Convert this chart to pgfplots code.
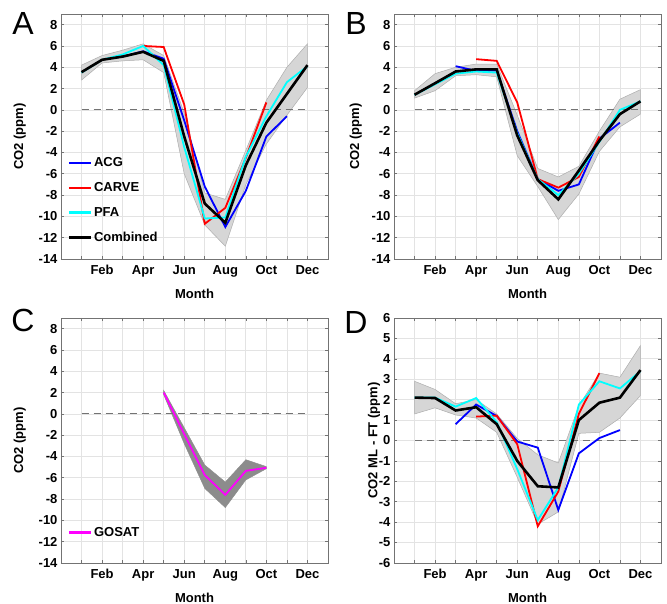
\documentclass[border=0pt]{standalone}
\usepackage{pgfplots}
\pgfplotsset{compat=1.18}
\usepackage{fontspec}
\setmainfont{Liberation Sans}
\definecolor{bandlight}{gray}{0.84}
\definecolor{bandedge}{gray}{0.68}
\definecolor{banddark}{gray}{0.55}
\definecolor{axisgray}{gray}{0.45}
\definecolor{cACG}{rgb}{0,0,1}
\definecolor{cCARVE}{rgb}{1,0,0}
\definecolor{cPFA}{rgb}{0,1,1}
\definecolor{cGOSAT}{rgb}{1,0,1}
\newcommand{\tfont}{\bfseries\fontsize{13}{15}\selectfont}
\pgfplotsset{
  panel/.style={
    scale only axis, width=267pt, height=245pt,
    xmin=0, xmax=13,
    xtick={1,...,12},
    xticklabels={{},Feb,{},Apr,{},Jun,{},Aug,{},Oct,{},Dec},
    grid=major,
    major grid style={gray!22, line width=0.7pt},
    axis line style={axisgray, line width=0.8pt},
    tick style={axisgray, line width=0.6pt},
    tick align=inside, tick pos=both, major tick length=3pt,
    ticklabel style={font=\tfont},
    xticklabel style={yshift=-3pt},
    /pgf/number format/assume math mode=true,
    xlabel=Month,
    xlabel style={font=\tfont, yshift=-5pt},
    ylabel near ticks,
    ylabel style={font=\tfont},
    legend cell align=left,
    legend style={draw=none, fill=none, font=\tfont, anchor=north west,
      inner sep=1pt, nodes={inner ysep=7.1pt}},
    legend image code/.code={\draw[mark repeat=2,mark phase=2,#1,line width=2.5pt] plot coordinates {(0pt,0pt) (11pt,0pt) (22pt,0pt)};},
  },
}
\tikzset{
  zero/.style={axisgray, line width=1pt, dash pattern=on 7pt off 5pt},
  band/.style={fill=bandlight, draw=bandedge, line width=0.5pt},
}
\begin{document}
\begin{tikzpicture}[x=1pt,y=1pt]
\useasboundingbox (0,0) rectangle (667,604);
% ---------------- A
\begin{axis}[panel, at={(61pt,345pt)}, anchor=south west,
  ymin=-14, ymax=9, ytick={-14,-12,...,8}, ylabel={CO2 (ppm)},
  ylabel style={yshift=6pt},
  legend style={at={(rel axis cs:0.02,0.447)}}]
\addplot[band, forget plot] coordinates {(1,4.2)(2,5.1)(3,5.6)(4,6.2)(5,5.1)(6,-0.3)(7,-7.8)(8,-8.4)(9,-3.8)(10,0.9)(11,4.0)(12,6.2)
 (12,2.1)(11,-0.5)(10,-3.2)(9,-7.0)(8,-12.8)(7,-10.8)(6,-6.0)(5,3.5)(4,4.7)(3,4.6)(2,4.4)(1,2.8)} -- cycle;
\addplot[zero, forget plot] coordinates {(1,0)(12,0)};
\addplot[color=cACG, line width=1.8pt] coordinates {(3,5.0)(4,5.5)(5,4.8)(6,-1.0)(7,-7.2)(8,-11.0)(9,-7.6)(10,-2.5)(11,-0.6)};
\addlegendentry{ACG}
\addplot[color=cCARVE, line width=1.8pt] coordinates {(4,6.0)(5,5.9)(6,0.5)(7,-10.7)(8,-9.2)(9,-4.5)(10,0.7)};
\addlegendentry{CARVE}
\addplot[color=cPFA, line width=1.8pt] coordinates {(1,3.5)(2,4.7)(3,5.2)(4,6.0)(5,4.2)(6,-3.5)(7,-10.2)(8,-10.1)(9,-4.4)(10,-0.6)(11,2.6)(12,4.1)};
\addlegendentry{PFA}
\addplot[color=black, line width=2.6pt] coordinates {(1,3.54)(2,4.7)(3,5.0)(4,5.45)(5,4.6)(6,-2.5)(7,-8.8)(8,-10.6)(9,-5.2)(10,-1.2)(11,1.5)(12,4.2)};
\addlegendentry{Combined}
\end{axis}
% ---------------- B
\begin{axis}[panel, at={(394pt,345pt)}, anchor=south west,
  ymin=-14, ymax=9, ytick={-14,-12,...,8}, ylabel={CO2 (ppm)},
  ylabel style={yshift=3pt}]
\addplot[band] coordinates {(1,1.8)(2,3.4)(3,4.0)(4,4.3)(5,4.3)(6,-0.5)(7,-5.5)(8,-6.3)(9,-5.3)(10,-2.0)(11,1.0)(12,1.9)
 (12,-0.4)(11,-1.6)(10,-3.9)(9,-7.9)(8,-10.3)(7,-7.2)(6,-4.3)(5,3.1)(4,3.3)(3,3.2)(2,1.8)(1,1.1)} -- cycle;
\addplot[zero] coordinates {(1,0)(12,0)};
\addplot[color=cACG, line width=1.8pt] coordinates {(3,4.1)(4,3.66)(5,3.7)(6,-2.0)(7,-6.5)(8,-7.6)(9,-7.0)(10,-2.7)(11,-1.2)};
\addplot[color=cCARVE, line width=1.8pt] coordinates {(4,4.76)(5,4.6)(6,0.7)(7,-6.5)(8,-7.3)(9,-6.3)(10,-2.5)};
\addplot[color=cPFA, line width=1.8pt] coordinates {(1,1.4)(2,2.4)(3,3.4)(4,3.6)(5,3.5)(6,-2.2)(7,-6.5)(8,-8.0)(9,-6.0)(10,-3.0)(11,0.0)(12,0.8)};
\addplot[color=black, line width=2.6pt] coordinates {(1,1.42)(2,2.5)(3,3.6)(4,3.8)(5,3.8)(6,-2.4)(7,-6.6)(8,-8.4)(9,-5.7)(10,-2.9)(11,-0.4)(12,0.8)};
\end{axis}
% ---------------- C
\begin{axis}[panel, at={(61pt,41pt)}, anchor=south west,
  ymin=-14, ymax=9, ytick={-14,-12,...,8}, ylabel={CO2 (ppm)},
  ylabel style={yshift=6pt},
  legend style={at={(rel axis cs:0.02,0.18)}}]
\addplot[fill=banddark, draw=banddark, forget plot] coordinates {(5,2.2)(6,-1.3)(7,-4.8)(8,-6.4)(9,-4.3)(10,-4.95)
 (10,-5.15)(9,-6.2)(8,-8.8)(7,-7.0)(6,-2.8)(5,1.8)} -- cycle;
\addplot[zero, forget plot] coordinates {(1,0)(12,0)};
\addplot[color=cGOSAT, line width=1.8pt] coordinates {(5,2.0)(6,-1.9)(7,-5.75)(8,-7.6)(9,-5.35)(10,-5.06)};
\addlegendentry{GOSAT}
\end{axis}
% ---------------- D
\begin{axis}[panel, at={(394pt,41pt)}, anchor=south west,
  ymin=-6, ymax=6, ytick={-6,-5,...,6}, ylabel={CO2 ML - FT (ppm)},
  ylabel style={yshift=-8pt}]
\addplot[band] coordinates {(1,2.9)(2,2.5)(3,1.8)(4,2.0)(5,1.3)(6,0.1)(7,-0.7)(8,-1.1)(9,1.7)(10,3.3)(11,3.1)(12,4.65)
 (12,2.2)(11,1.1)(10,0.4)(9,0.35)(8,-3.5)(7,-4.1)(6,-1.8)(5,0.4)(4,1.1)(3,1.25)(2,1.6)(1,1.3)} -- cycle;
\addplot[zero] coordinates {(1,0)(12,0)};
\addplot[color=cACG, line width=1.8pt] coordinates {(3,0.8)(4,1.76)(5,1.2)(6,-0.05)(7,-0.35)(8,-3.4)(9,-0.63)(10,0.12)(11,0.51)};
\addplot[color=cCARVE, line width=1.8pt] coordinates {(4,1.17)(5,1.22)(6,-0.18)(7,-4.2)(8,-2.5)(9,1.3)(10,3.3)};
\addplot[color=cPFA, line width=1.8pt] coordinates {(1,2.1)(2,2.1)(3,1.66)(4,2.08)(5,0.9)(6,-1.4)(7,-3.9)(8,-2.3)(9,1.76)(10,2.9)(11,2.55)(12,3.4)};
\addplot[color=black, line width=2.6pt] coordinates {(1,2.1)(2,2.08)(3,1.47)(4,1.63)(5,0.8)(6,-1.0)(7,-2.24)(8,-2.3)(9,1.0)(10,1.85)(11,2.1)(12,3.45)};
\end{axis}
% panel letters
\node[font=\fontsize{32}{34}\selectfont, anchor=center] at (23,580) {A};
\node[font=\fontsize{32}{34}\selectfont, anchor=center] at (356,580) {B};
\node[font=\fontsize{32}{34}\selectfont, anchor=center] at (23,284) {C};
\node[font=\fontsize{32}{34}\selectfont, anchor=center] at (356,282) {D};
\end{tikzpicture}
\end{document}
